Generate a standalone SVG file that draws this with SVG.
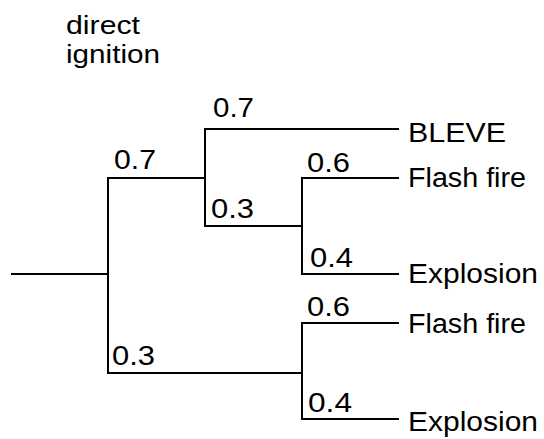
<svg xmlns="http://www.w3.org/2000/svg" width="544" height="439" viewBox="0 0 544 439">
<style>
.t{font-family:"Liberation Sans",Arial,sans-serif;font-size:27px;fill:#000}
.h{font-family:"Liberation Sans",Arial,sans-serif;font-size:25px;fill:#000}
.c line{stroke:#000;stroke-width:2;stroke-linecap:square}
</style>
<rect width="544" height="439" fill="#fff"/>
<g id="header"><text class="h" x="66" y="34" textLength="74" lengthAdjust="spacingAndGlyphs">direct</text><text class="h" x="66" y="63" textLength="94" lengthAdjust="spacingAndGlyphs">ignition</text></g>
<g class="c" id="connectors">
<line x1="12" y1="274" x2="108" y2="274"/>
<line x1="108" y1="178" x2="108" y2="373"/>
<line x1="108" y1="178" x2="205" y2="178"/>
<line x1="108" y1="373" x2="302" y2="373"/>
<line x1="205" y1="129" x2="205" y2="226"/>
<line x1="205" y1="129" x2="398" y2="129"/>
<line x1="205" y1="226" x2="302" y2="226"/>
<line x1="302" y1="178" x2="302" y2="274"/>
<line x1="302" y1="178" x2="398" y2="178"/>
<line x1="302" y1="274" x2="398" y2="274"/>
<line x1="302" y1="323" x2="302" y2="419"/>
<line x1="302" y1="323" x2="398" y2="323"/>
<line x1="302" y1="419" x2="398" y2="419"/>
</g>
<g id="probabilities">
<text class="t" x="114" y="169" textLength="42" lengthAdjust="spacingAndGlyphs">0.7</text>
<text class="t" x="112" y="365" textLength="43" lengthAdjust="spacingAndGlyphs">0.3</text>
<text class="t" x="213" y="117" textLength="41" lengthAdjust="spacingAndGlyphs">0.7</text>
<text class="t" x="211" y="218" textLength="43" lengthAdjust="spacingAndGlyphs">0.3</text>
<text class="t" x="307" y="172" textLength="43" lengthAdjust="spacingAndGlyphs">0.6</text>
<text class="t" x="310" y="267" textLength="43" lengthAdjust="spacingAndGlyphs">0.4</text>
<text class="t" x="307" y="316" textLength="43" lengthAdjust="spacingAndGlyphs">0.6</text>
<text class="t" x="308" y="412" textLength="44" lengthAdjust="spacingAndGlyphs">0.4</text>
</g>
<g id="n-bleve"><text class="t" x="408" y="142" textLength="98" lengthAdjust="spacingAndGlyphs">BLEVE</text></g>
<g id="n-flash1"><text class="t" x="408" y="187" textLength="118" lengthAdjust="spacingAndGlyphs">Flash fire</text></g>
<g id="n-explosion1"><text class="t" x="408" y="283" textLength="130" lengthAdjust="spacingAndGlyphs">Explosion</text></g>
<g id="n-flash2"><text class="t" x="408" y="333" textLength="118" lengthAdjust="spacingAndGlyphs">Flash fire</text></g>
<g id="n-explosion2"><text class="t" x="408" y="431" textLength="130" lengthAdjust="spacingAndGlyphs">Explosion</text></g>
</svg>
